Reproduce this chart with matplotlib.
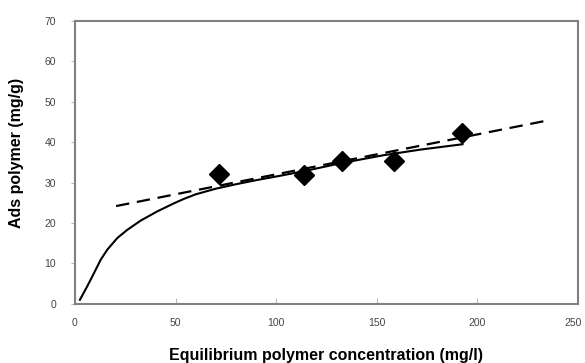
import matplotlib

matplotlib.use("Agg")
import matplotlib.pyplot as plt
from matplotlib.transforms import ScaledTranslation

plt.rcParams["font.family"] = ["Liberation Sans", "DejaVu Sans"]

# measured adsorption points
conc = [71.5, 114, 132.5, 158.5, 192.5]
ads = [32.1, 32.0, 35.4, 35.4, 42.3]

# fitted isotherm (solid)
fit_x = [2.5, 6.1, 9.5, 12.8, 16.1, 21.1, 26, 32.7, 41, 49.3, 54.3, 60,
         70, 80, 90, 102, 115.4, 132, 153.5, 172, 192.6]
fit_y = [1.0, 4.3, 7.6, 10.9, 13.4, 16.3, 18.3, 20.6, 22.9, 24.9, 26.0, 27.1,
         28.5, 29.6, 30.6, 31.7, 33.0, 34.8, 36.8, 38.2, 39.5]

# linear trend (dashed)
trend_x = [20.5, 234]
trend_y = [24.2, 45.3]

fig = plt.figure(figsize=(5.85, 3.63), dpi=100)
ax = fig.add_axes([0.128, 0.163, 0.86, 0.779])

ax.plot(fit_x, fit_y, color="black", lw=1.5)
ax.plot(trend_x, trend_y, color="black", lw=1.6, ls=(0, (6, 3.5)))
ax.plot(conc, ads, ls="none", marker="D", ms=10, color="black")

ax.set_xlim(0, 250)
ax.set_ylim(0, 70)
ax.set_xticks([0, 50, 100, 150, 200, 250])
ax.set_yticks(range(0, 71, 10))

for s in ax.spines.values():
    s.set_color("#808080")
    s.set_linewidth(1.5)
ax.tick_params(axis="x", direction="in", length=4, color="#bbbbbb",
               labelsize=7.5, labelcolor="#444444", pad=10)
ax.tick_params(axis="y", direction="out", length=3, color="#bbbbbb",
               labelsize=7.5, labelcolor="#444444", pad=10.5)

# last x label sits a little left of its tick, as in the original
last = ax.get_xticklabels()[-1]
last.set_transform(last.get_transform() + ScaledTranslation(-5 / 100, 0, fig.dpi_scale_trans))

ax.set_xlabel("Equilibrium polymer concentration (mg/l)", fontsize=11.5,
              fontweight="bold")
ax.set_ylabel("Ads polymer (mg/g)", fontsize=11.5, fontweight="bold")
ax.xaxis.set_label_coords(0.5, -0.155)
ax.yaxis.set_label_coords(-0.101, 0.535)

fig.savefig("out.png", dpi=100)
